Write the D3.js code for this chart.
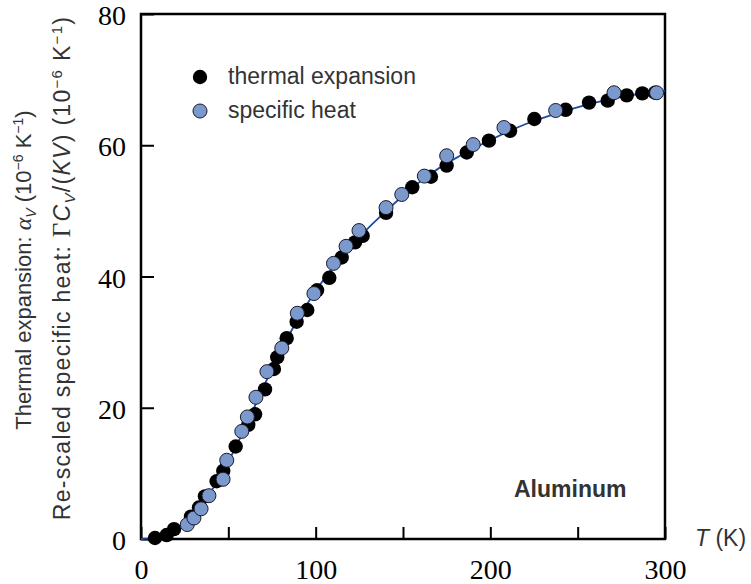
<!DOCTYPE html>
<html>
<head>
<meta charset="utf-8">
<script src="https://cdn.jsdelivr.net/npm/d3@7"></script>
<style>
  html, body { margin: 0; padding: 0; background: #fff; }
  svg { display: block; }
</style>
</head>
<body>
<svg id="chart" width="751" height="584"></svg>
<script>
// ---- data ----
const thermalT = [8.0, 14.7, 18.9, 28.6, 33.2, 36.6, 43.3, 47.1, 54.2, 61.4, 65.3, 71.0, 76.1, 78.0, 83.4, 89.1, 95.2, 100.8, 107.8, 114.9, 122.5, 126.9, 140.3, 155.3, 166.0, 175.0, 186.5, 199.2, 211.3, 225.2, 243.1, 256.5, 267.2, 278.1, 287.0, 294.3];
const thermalV = [0.15, 0.6, 1.5, 3.4, 4.8, 6.5, 8.8, 10.4, 14.1, 17.4, 19.0, 22.8, 25.9, 27.7, 30.6, 33.1, 34.9, 37.9, 39.8, 42.9, 45.2, 46.2, 49.7, 53.6, 55.2, 56.9, 58.9, 60.7, 62.2, 64.0, 65.4, 66.5, 66.8, 67.6, 67.9, 68.0];

const heatT = [26.5, 30.3, 34.4, 38.9, 47.0, 49.1, 57.7, 60.9, 65.8, 72.1, 80.6, 89.5, 99.0, 110.2, 117.4, 124.8, 140.3, 149.3, 162.2, 175.0, 190.2, 207.8, 237.4, 270.8, 295.2];
const heatV = [2.2, 3.2, 4.6, 6.6, 9.1, 12.0, 16.4, 18.6, 21.6, 25.5, 29.1, 34.4, 37.4, 42.0, 44.6, 47.0, 50.5, 52.5, 55.3, 58.4, 60.1, 62.7, 65.3, 68.0, 68.0];

const curveT = [0, 10, 20, 30, 40, 50, 60, 70, 80, 90, 100, 110, 120, 140, 150, 160, 170, 180, 200, 220, 240, 260, 280, 300];
const curveV = [0, 0.3, 1.6, 3.6, 7.2, 11.8, 17.2, 23.1, 28.6, 33.6, 37.8, 41.4, 44.6, 49.9, 52.3, 54.5, 56.4, 58.0, 60.8, 63.2, 65.0, 66.5, 67.6, 68.3];

const xTicks = [0, 50, 100, 150, 200, 250, 300];
const xLabels = [0, 100, 200, 300];
const yTicks = [0, 20, 40, 60, 80];

const seriesNames = ["thermal expansion", "specific heat"];
const materialLabel = "Aluminum";

// ---- drawing ----
const svg = d3.select("#chart");
const mLeft = 141, mRight = 665, mTop = 14, mBottom = 539;
const x = d3.scaleLinear().domain([0, 300]).range([mLeft, mRight]);
const y = d3.scaleLinear().domain([0, 80]).range([mBottom, mTop]);

const blueFill = "#7b99cc";
const lineColor = "#1c4aa0";
const textGrey = "#333333";

// x axis
const xAxis = d3.axisBottom(x)
  .tickValues(xTicks)
  .tickSize(-12)
  .tickPadding(20)
  .tickFormat(d => xLabels.includes(d) ? d : "");
const gx = svg.append("g").attr("transform", `translate(0,${mBottom})`).call(xAxis);
gx.select(".domain").remove();
gx.selectAll(".tick line").attr("stroke", "#000").attr("stroke-width", 2);
gx.selectAll(".tick text")
  .attr("font-family", "'Liberation Serif', 'Times New Roman', serif")
  .attr("font-size", 28).attr("fill", "#000");

// y axis
const yAxis = d3.axisLeft(y)
  .tickValues(yTicks)
  .tickSize(-13)
  .tickPadding(15);
const gy = svg.append("g").attr("transform", `translate(${mLeft},0)`).call(yAxis);
gy.select(".domain").remove();
gy.selectAll(".tick line").attr("stroke", "#000").attr("stroke-width", 2);
gy.selectAll(".tick text")
  .attr("font-family", "'Liberation Serif', 'Times New Roman', serif")
  .attr("font-size", 28).attr("fill", "#000").attr("dy", "0.38em");

// frame
svg.append("rect")
  .attr("x", mLeft).attr("y", mTop)
  .attr("width", mRight - mLeft).attr("height", mBottom - mTop)
  .attr("fill", "none").attr("stroke", "#000").attr("stroke-width", 2.5);

// fit curve
const line = d3.line()
  .x((d, i) => x(curveT[i]))
  .y((d, i) => y(curveV[i]))
  .curve(d3.curveMonotoneX);
svg.append("path")
  .datum(curveV)
  .attr("d", line)
  .attr("fill", "none")
  .attr("stroke", lineColor)
  .attr("stroke-width", 1.8);

// thermal expansion points
svg.append("g").selectAll("circle")
  .data(thermalT.map((t, i) => [t, thermalV[i]]))
  .join("circle")
  .attr("cx", d => x(d[0])).attr("cy", d => y(d[1]))
  .attr("r", 7.2).attr("fill", "#000");

// specific heat points
svg.append("g").selectAll("circle")
  .data(heatT.map((t, i) => [t, heatV[i]]))
  .join("circle")
  .attr("cx", d => x(d[0])).attr("cy", d => y(d[1]))
  .attr("r", 7).attr("fill", blueFill)
  .attr("stroke", "#1a1a2a").attr("stroke-width", 1);

// legend
const legend = svg.append("g");
legend.append("circle").attr("cx", 200).attr("cy", 77).attr("r", 7.2).attr("fill", "#000");
legend.append("circle").attr("cx", 200).attr("cy", 111).attr("r", 7).attr("fill", blueFill)
  .attr("stroke", "#1a1a2a").attr("stroke-width", 1);
legend.selectAll("text").data(seriesNames).join("text")
  .attr("x", 228).attr("y", (d, i) => 84 + i * 34)
  .attr("font-family", "'Liberation Sans', Arial, sans-serif")
  .attr("font-size", 23).attr("fill", textGrey)
  .text(d => d);

// material label
svg.append("text")
  .attr("x", 514).attr("y", 497)
  .attr("font-family", "'Liberation Sans', Arial, sans-serif")
  .attr("font-size", 23).attr("font-weight", "bold").attr("fill", textGrey)
  .text(materialLabel);

// x title
const xt = svg.append("text")
  .attr("x", 695).attr("y", 546)
  .attr("font-family", "'Liberation Sans', Arial, sans-serif")
  .attr("font-size", 23).attr("fill", textGrey);
xt.append("tspan").attr("font-style", "italic").text("T");
xt.append("tspan").text(" (K)");

// y titles
function yTitle(xpos, ypos, size, spacing, parts) {
  const t = svg.append("text")
    .attr("transform", `translate(${xpos},${ypos}) rotate(-90)`)
    .attr("text-anchor", "middle")
    .attr("font-family", "'Liberation Sans', Arial, sans-serif")
    .attr("font-size", size).attr("letter-spacing", spacing).attr("fill", textGrey);
  parts.forEach(p => {
    const s = t.append("tspan").text(p.t);
    if (p.it) s.attr("font-style", "italic");
    if (p.serif) s.attr("font-family", "'Liberation Serif', 'Times New Roman', serif");
    if (p.size) s.attr("font-size", p.size);
    if (p.dy) s.attr("dy", p.dy);
  });
}
yTitle(31, 270, 22, 0, [
  {t: "Thermal expansion: "},
  {t: "α", it: true, serif: true, size: 24},
  {t: "V", it: true, size: 14, dy: 5},
  {t: " (10", dy: -5},
  {t: "−6", size: 14, dy: -8},
  {t: " K", dy: 8},
  {t: "−1", size: 14, dy: -8},
  {t: ")", dy: 8}
]);
yTitle(70, 268, 23, 1.3, [
  {t: "Re-scaled specific heat: "},
  {t: "Γ", serif: true, size: 25},
  {t: "C", it: true},
  {t: "V", it: true, size: 15, dy: 5},
  {t: "/(", dy: -5},
  {t: "KV", it: true},
  {t: ") (10"},
  {t: "−6", size: 15, dy: -8},
  {t: " K", dy: 8},
  {t: "−1", size: 15, dy: -8},
  {t: ")", dy: 8}
]);
</script>
</body>
</html>
